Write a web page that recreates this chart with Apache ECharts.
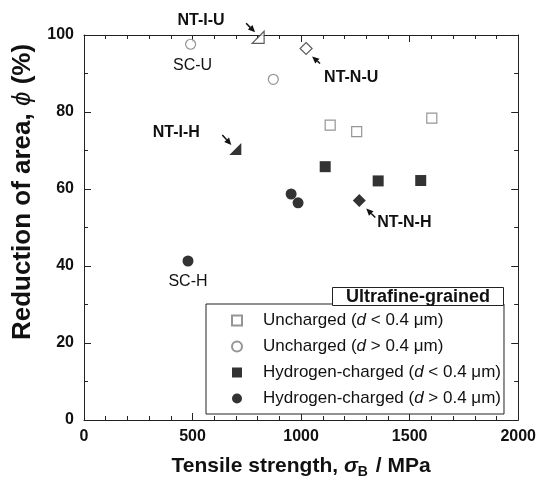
<!DOCTYPE html>
<html>
<head>
<meta charset="utf-8">
<script src="https://cdn.jsdelivr.net/npm/echarts@6/dist/echarts.min.js"></script>
<style>
  html, body { margin: 0; padding: 0; background: #fff; }
  #chart { width: 539px; height: 487px; }
</style>
</head>
<body>
<div id="chart"></div>
<script>
// values: [tensile strength MPa, reduction of area %]
const unchargedFine = [[1134, 76.6], [1256, 74.9], [1602, 78.4]];
const unchargedCoarse = [[491, 97.6], [872, 88.5]];
const chargedFine = [[1111, 65.8], [1355, 62.1], [1551, 62.2]];
const chargedCoarse = [[479, 41.3], [954, 58.7], [986, 56.4]];
const ntIU = [[802, 99.4]];
const ntIH = [[697, 70.4]];
const ntNU = [[1023, 96.5]];
const ntNH = [[1268, 57.0]];

const seriesNames = [
  'Uncharged (d < 0.4 μm)',
  'Uncharged (d > 0.4 μm)',
  'Hydrogen-charged (d < 0.4 μm)',
  'Hydrogen-charged (d > 0.4 μm)',
];
const legendTitle = 'Ultrafine-grained';
const yTitle = '{t|Reduction of area, }{s|ϕ}{t| (%)}';

const xTicks = { min: 0, max: 2000, interval: 500 };
const yTicks = { min: 0, max: 100, interval: 20 };

const font = '"Liberation Sans", Arial, Helvetica, sans-serif';
const openGray = '#7a7a7a';

// right-angle triangle used for the NT-I samples
const halfTriangle = 'path://M0,10 L10,0 L10,10 Z';

const chart = echarts.init(document.getElementById('chart'), null, { renderer: 'canvas' });

const axisCommon = {
  axisLine: { show: true, onZero: false, lineStyle: { color: '#222', width: 1 } },
  axisTick: { show: true, inside: true, length: 7, lineStyle: { color: '#222' } },
  minorTick: { show: true, length: 4, lineStyle: { color: '#222' } },
  splitLine: { show: false },
};

function xAxis(position, labels) {
  return {
    ...axisCommon,
    type: 'value',
    position,
    min: xTicks.min,
    max: xTicks.max,
    interval: xTicks.interval,
    minorTick: { ...axisCommon.minorTick, splitNumber: 5 },
    axisLabel: {
      show: labels,
      margin: 9,
      color: '#111',
      fontFamily: font,
      fontWeight: 'bold',
      fontSize: 16,
      formatter: (v) => String(v),
    },
  };
}

function yAxis(position, labels) {
  return {
    ...axisCommon,
    type: 'value',
    position,
    min: yTicks.min,
    max: yTicks.max,
    interval: yTicks.interval,
    minorTick: { ...axisCommon.minorTick, splitNumber: 2 },
    axisLabel: {
      show: labels,
      margin: 10,
      color: '#111',
      fontFamily: font,
      fontWeight: 'bold',
      fontSize: 16,
      formatter: (v) => String(v),
    },
  };
}

const bottomAxis = xAxis('bottom', true);
bottomAxis.name = '{t|Tensile strength, }{s|σ}{sub|B}{t| / MPa}';
bottomAxis.nameLocation = 'middle';
bottomAxis.nameGap = 33;
bottomAxis.nameTextStyle = {
  rich: {
    t: { fontFamily: font, fontWeight: 'bold', fontSize: 21, color: '#111' },
    s: { fontFamily: font, fontStyle: 'italic', fontWeight: 'bold', fontSize: 21, color: '#111' },
    sub: { fontFamily: font, fontWeight: 'bold', fontSize: 14, color: '#111', padding: [12, 2, 0, 0] },
  },
};

function scatter(name, data, symbol, size, filled, border) {
  return {
    name,
    type: 'scatter',
    data,
    symbol,
    symbolSize: size,
    xAxisIndex: 0,
    yAxisIndex: 0,
    itemStyle: filled
      ? { color: '#000' }
      : { color: '#fff', borderColor: border || openGray, borderWidth: 1.2 },
    z: 3,
  };
}

const legendSign = ['<', '>', '<', '>'];
const legendLead = ['Uncharged', 'Uncharged', 'Hydrogen-charged', 'Hydrogen-charged'];

const option = {
  animation: false,
  backgroundColor: '#fff',
  grid: { left: 84, right: 19, top: 35, bottom: 67, containLabel: false },
  xAxis: [bottomAxis, xAxis('top', false)],
  yAxis: [yAxis('left', true), yAxis('right', false)],
  legend: {
    data: seriesNames,
    orient: 'vertical',
    left: 206,
    top: 304,
    padding: [8, 3, 7, 25],
    itemWidth: 10,
    itemHeight: 10,
    itemGap: 9,
    borderColor: '#222',
    borderWidth: 1,
    backgroundColor: '#fff',
    selectedMode: false,
    z: 4,
    formatter: (name) => {
      const i = seriesNames.indexOf(name);
      return `{p| }{n|${legendLead[i]} (}{i|d}{n| ${legendSign[i]} 0.4 μm)}`;
    },
    textStyle: {
      rich: {
        p: { width: 16, fontSize: 17, lineHeight: 17 },
        n: { fontFamily: font, fontSize: 17, lineHeight: 17, color: '#111' },
        i: { fontFamily: font, fontSize: 17, lineHeight: 17, fontStyle: 'italic', color: '#111' },
      },
    },
  },
  series: [
    scatter(seriesNames[0], unchargedFine, 'rect', 10, false),
    scatter(seriesNames[1], unchargedCoarse, 'circle', 10, false),
    scatter(seriesNames[2], chargedFine, 'rect', 11, true),
    scatter(seriesNames[3], chargedCoarse, 'circle', 11, true),
    scatter('NT-I-U', ntIU, halfTriangle, 12, false, '#333'),
    scatter('NT-I-H', ntIH, halfTriangle, 12, true),
    scatter('NT-N-U', ntNU, 'diamond', 12, false, '#333'),
    scatter('NT-N-H', ntNH, 'diamond', 13, true),
  ],
};

chart.setOption(option);

// annotations: text and arrows placed relative to their data point
const notes = [
  { pt: ntIU[0], text: 'NT-I-U', bold: true, dx: -57, dy: -17, align: 'center', arrow: [-12, -14, -3, -5] },
  { pt: unchargedCoarse[0], text: 'SC-U', bold: false, dx: 2, dy: 21, align: 'center' },
  { pt: ntNU[0], text: 'NT-N-U', bold: true, dx: 18, dy: 29, align: 'left', arrow: [14, 15, 6, 8] },
  { pt: ntIH[0], text: 'NT-I-H', bold: true, dx: -59, dy: -16, align: 'center', arrow: [-13, -14, -4, -4] },
  { pt: chargedCoarse[0], text: 'SC-H', bold: false, dx: 0, dy: 21, align: 'center' },
  { pt: ntNH[0], text: 'NT-N-H', bold: true, dx: 18, dy: 22, align: 'left', arrow: [16, 17, 7, 8] },
];

const graphic = [];
notes.forEach((n) => {
  const [px, py] = chart.convertToPixel({ gridIndex: 0 }, n.pt);
  graphic.push({
    type: 'text',
    x: px + n.dx,
    y: py + n.dy,
    style: {
      text: n.text,
      fill: '#111',
      font: `${n.bold ? 'bold ' : ''}16px ${font}`,
      align: n.align,
      verticalAlign: 'middle',
    },
    z: 10,
  });
  if (n.arrow) {
    const [tx, ty, hx, hy] = n.arrow;
    const x1 = px + tx, y1 = py + ty, x2 = px + hx, y2 = py + hy;
    const ang = Math.atan2(y2 - y1, x2 - x1);
    const len = 7, half = 3.2;
    const bx = x2 - len * Math.cos(ang), by = y2 - len * Math.sin(ang);
    graphic.push({
      type: 'line',
      shape: { x1, y1, x2: bx, y2: by },
      style: { stroke: '#111', lineWidth: 1.5 },
      z: 10,
    });
    graphic.push({
      type: 'polygon',
      shape: {
        points: [
          [x2, y2],
          [bx - half * Math.sin(ang), by + half * Math.cos(ang)],
          [bx + half * Math.sin(ang), by - half * Math.cos(ang)],
        ],
      },
      style: { fill: '#111' },
      z: 10,
    });
  }
});

// y-axis title sits higher than the plot middle in the original, so it is drawn by hand
graphic.push({
  type: 'text',
  x: 23,
  y: 192,
  rotation: Math.PI / 2,
  z: 10,
  style: {
    text: yTitle,
    align: 'center',
    verticalAlign: 'middle',
    rich: {
      t: { fontFamily: font, fontWeight: 'bold', fontSize: 26, fill: '#111' },
      s: { fontFamily: font, fontStyle: 'italic', fontSize: 26, fill: '#111' },
    },
  },
});

// boxed heading sitting on the legend frame
graphic.push({
  type: 'group',
  right: 35,
  top: 287,
  z: 50,
  children: [
    {
      type: 'rect',
      z: 50,
      shape: { x: 0, y: 0, width: 171, height: 18 },
      style: { fill: '#fff', stroke: '#222', lineWidth: 1 },
    },
    {
      type: 'text',
      z: 51,
      x: 85.5,
      y: 9.5,
      style: {
        text: legendTitle,
        fill: '#111',
        font: `bold 18px ${font}`,
        align: 'center',
        verticalAlign: 'middle',
      },
    },
  ],
});

chart.setOption({ graphic });
</script>
</body>
</html>
